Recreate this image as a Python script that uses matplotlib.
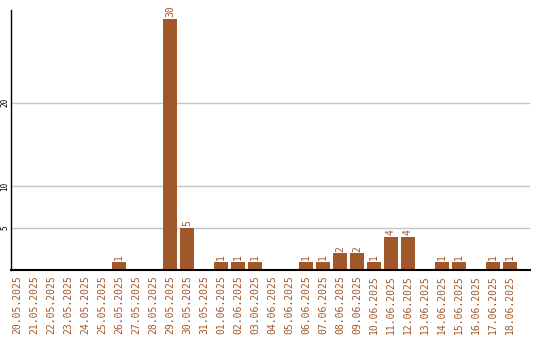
import matplotlib
matplotlib.use("Agg")
import matplotlib.pyplot as plt

# ------------------- DATA ------------------- #
dates = ["20.05.2025", "21.05.2025", "22.05.2025", "23.05.2025", "24.05.2025",
         "25.05.2025", "26.05.2025", "27.05.2025", "28.05.2025", "29.05.2025",
         "30.05.2025", "31.05.2025", "01.06.2025", "02.06.2025", "03.06.2025",
         "04.06.2025", "05.06.2025", "06.06.2025", "07.06.2025", "08.06.2025",
         "09.06.2025", "10.06.2025", "11.06.2025", "12.06.2025", "13.06.2025",
         "14.06.2025", "15.06.2025", "16.06.2025", "17.06.2025", "18.06.2025"]
counts = [0, 0, 0, 0, 0, 0, 1, 0, 0, 30,
          5, 0, 1, 1, 1, 0, 0, 1, 1, 2,
          2, 1, 4, 4, 0, 1, 1, 0, 1, 1]
y_ticks = [5, 10, 20]

bar_color = "#A0582A"
font = "DejaVu Sans Mono"

# ------------------- PLOT ------------------- #
fig = plt.figure(figsize=(5.4, 3.4), dpi=100)
ax = fig.add_axes([11 / 540, 70 / 340, 519 / 540, 260 / 340])

x = list(range(len(dates)))
bars = ax.bar(x, counts, width=0.82, color=bar_color, zorder=2)

for xi, v in zip(x, counts):
    if v > 0:
        ax.text(xi, v + 0.2, str(v), rotation=90, ha="center", va="bottom",
                color=bar_color, fontsize=7, family=font)

ax.set_xlim(-0.35, 30.18)
ax.set_ylim(0, 31.05)

ax.set_xticks(x)
ax.set_xticklabels(dates, rotation=90, color=bar_color, fontsize=7, family=font)
ax.set_yticks(y_ticks)
ax.set_yticklabels([str(t) for t in y_ticks], rotation=90, va="center",
                   fontsize=5.5, family=font)
ax.tick_params(axis="both", length=0)
ax.tick_params(axis="x", pad=4)
ax.tick_params(axis="y", pad=1)

ax.grid(axis="y", color="#c4c4c4", linewidth=1, zorder=0)
ax.set_axisbelow(True)

for side in ["top", "right"]:
    ax.spines[side].set_visible(False)
ax.spines["left"].set_linewidth(1)
ax.spines["bottom"].set_linewidth(1.5)

fig.savefig("out.png", dpi=100)
